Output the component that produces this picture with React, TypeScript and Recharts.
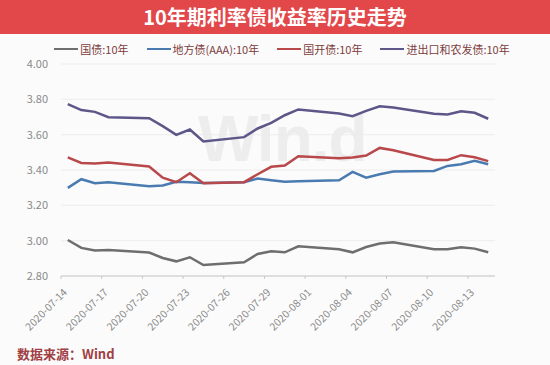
import { LineChart, Line, XAxis, YAxis, CartesianGrid } from 'recharts'

// trading days
const dates = [
  '2020-07-14', '2020-07-15', '2020-07-16', '2020-07-17',
  '2020-07-20', '2020-07-21', '2020-07-22', '2020-07-23', '2020-07-24',
  '2020-07-27', '2020-07-28', '2020-07-29', '2020-07-30', '2020-07-31',
  '2020-08-03', '2020-08-04', '2020-08-05', '2020-08-06', '2020-08-07',
  '2020-08-10', '2020-08-11', '2020-08-12', '2020-08-13', '2020-08-14',
]

const guoZhai = [
  3.004, 2.959, 2.944, 2.947, 2.933, 2.902, 2.883, 2.906, 2.862, 2.878, 2.925, 2.94,
  2.934, 2.968, 2.951, 2.934, 2.964, 2.984, 2.991, 2.951, 2.951, 2.963, 2.955, 2.934,
]
const diFang = [
  3.299, 3.348, 3.325, 3.331, 3.308, 3.312, 3.333, 3.331, 3.327, 3.331, 3.352, 3.342,
  3.333, 3.336, 3.342, 3.389, 3.357, 3.376, 3.391, 3.395, 3.423, 3.433, 3.452, 3.433,
]
const guoKai = [
  3.471, 3.44, 3.437, 3.442, 3.42, 3.357, 3.331, 3.382, 3.325, 3.331, 3.376, 3.418,
  3.425, 3.478, 3.467, 3.471, 3.482, 3.525, 3.512, 3.457, 3.457, 3.484, 3.472, 3.45,
]
const jinChuKou = [
  3.773, 3.739, 3.729, 3.699, 3.693, 3.648, 3.599, 3.629, 3.561, 3.586, 3.635, 3.667,
  3.71, 3.743, 3.72, 3.705, 3.735, 3.761, 3.754, 3.718, 3.714, 3.733, 3.724, 3.69,
]

const xTickDates = [
  '2020-07-14', '2020-07-17', '2020-07-20', '2020-07-23', '2020-07-26', '2020-07-29',
  '2020-08-01', '2020-08-04', '2020-08-07', '2020-08-10', '2020-08-13',
]
const yTicks = [2.8, 3.0, 3.2, 3.4, 3.6, 3.8, 4.0]

const series = [
  { key: 'guoZhai', name: '国债:10年', color: '#6e6e6e' },
  { key: 'diFang', name: '地方债(AAA):10年', color: '#4a7bb0' },
  { key: 'guoKai', name: '国开债:10年', color: '#b8484a' },
  { key: 'jinChuKou', name: '进出口和农发债:10年', color: '#5c5788' },
]

const DAY = 86400000
const start = Date.parse(dates[0])
const dayIndex = (s: string) => (Date.parse(s) - start) / DAY

const data = dates.map((d, i) => ({
  x: dayIndex(d) + 0.5,
  guoZhai: guoZhai[i],
  diFang: diFang[i],
  guoKai: guoKai[i],
  jinChuKou: jinChuKou[i],
}))
const xTicks = xTickDates.map(dayIndex)

const font = '"Noto Sans CJK SC", "Noto Sans", sans-serif'

const DateTick = ({ x, y, payload }: any) => (
  <g transform={`translate(${x + 7},${y + 12})`}>
    <text x={0} y={0} textAnchor="end" transform="rotate(-45)" fill="#8a8a8a" fontSize={10.5} fontFamily={font}>
      {xTickDates[xTicks.indexOf(payload.value)]}
    </text>
  </g>
)

export default function App() {
  return (
    <div style={{ position: 'absolute', left: 0, top: 0, width: 550, height: 365, background: '#fbfbfb', fontFamily: font, overflow: 'hidden' }}>
      <div style={{ height: 34, background: '#e2474a', color: '#fff', fontSize: 20, fontWeight: 700, lineHeight: '34px', textAlign: 'center' }}>
        10年期利率债收益率历史走势
      </div>
      <div style={{ position: 'absolute', top: 41, left: 0, width: 550, display: 'flex', justifyContent: 'center', gap: 18, fontSize: 11, color: '#7d3c3c', paddingLeft: 7 }}>
        {series.map(s => (
          <div key={s.key} style={{ display: 'flex', alignItems: 'center', gap: 2 }}>
            <span style={{ display: 'inline-block', width: 24, height: 2, background: s.color }} />
            <span>{s.name}</span>
          </div>
        ))}
      </div>
      <div style={{ position: 'absolute', left: 198, top: 102, fontFamily: '"Liberation Sans", sans-serif', fontWeight: 700, fontSize: 64, color: '#ededed', letterSpacing: -1 }}>
        Win.d
      </div>
      <div style={{ position: 'absolute', left: 0, top: 0 }}>
        <LineChart width={550} height={365} data={data} margin={{ top: 64, right: 55, bottom: 29, left: 0 }}>
          <CartesianGrid vertical={false} stroke="#ececec" />
          <XAxis
            dataKey="x"
            type="number"
            domain={[0, 32]}
            ticks={xTicks}
            height={60}
            tick={<DateTick />}
            tickSize={3}
            axisLine={{ stroke: '#c8c8c8' }}
            tickLine={{ stroke: '#c8c8c8' }}
          />
          <YAxis
            domain={[2.8, 4.0]}
            ticks={yTicks}
            width={61}
            tickFormatter={(v: number) => v.toFixed(2)}
            tick={{ fill: '#8a8a8a', fontSize: 11, fontFamily: font }}
            axisLine={false}
            tickLine={false}
            tickSize={6}
            tickMargin={7}
          />
          {series.map(s => (
            <Line
              key={s.key}
              type="linear"
              dataKey={s.key}
              name={s.name}
              stroke={s.color}
              strokeWidth={2.5}
              dot={false}
              isAnimationActive={false}
            />
          ))}
        </LineChart>
      </div>
      <div style={{ position: 'absolute', left: 17, top: 344, fontSize: 13, fontWeight: 700, color: '#a04044' }}>
        数据来源：Wind
      </div>
    </div>
  )
}
